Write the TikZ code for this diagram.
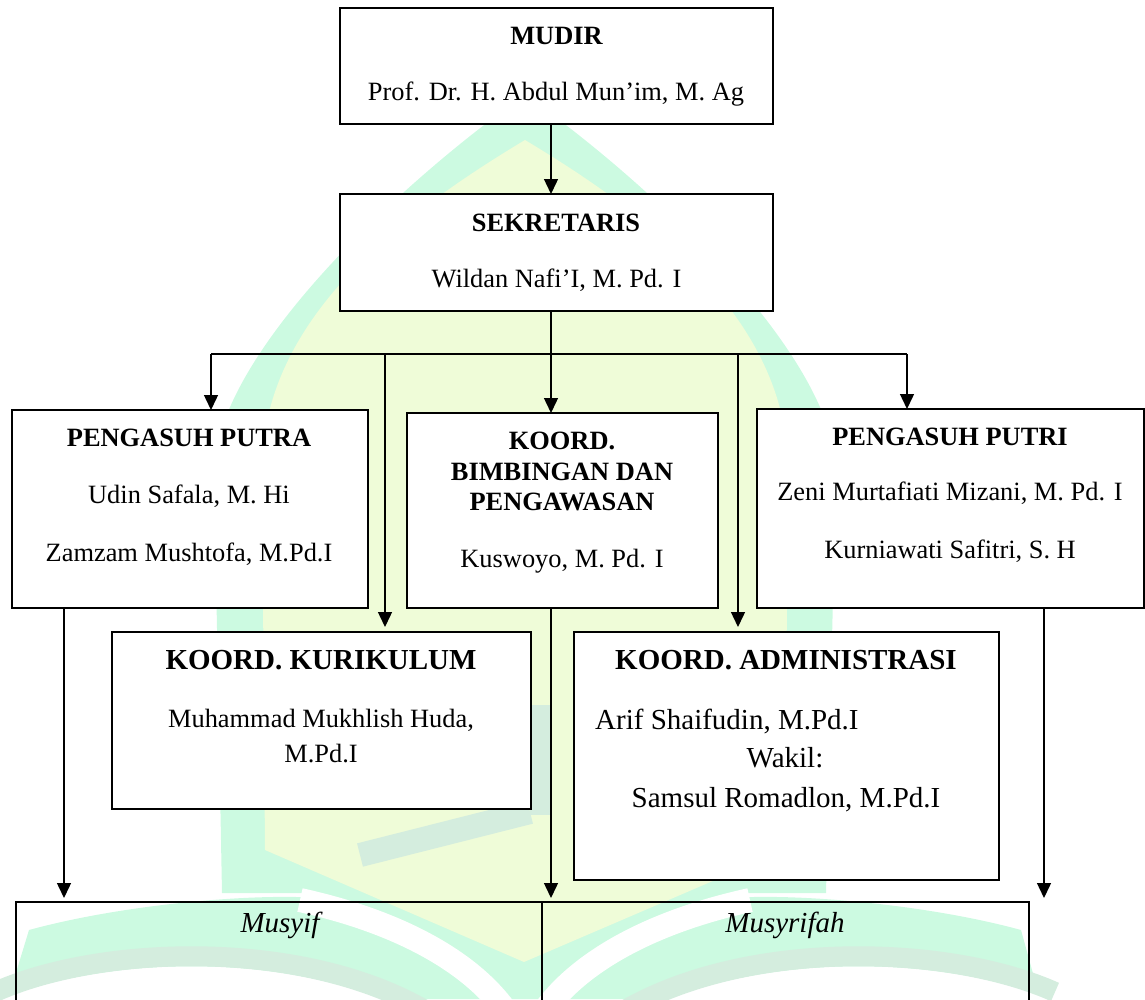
\documentclass[tikz,border=0pt]{standalone}
\usepackage{fontspec}
\setmainfont{Liberation Serif}
\usetikzlibrary{arrows.meta}
\definecolor{wmmint}{HTML}{CCFAE1}
\definecolor{wmyellow}{HTML}{EFFCD8}
\definecolor{wmgray}{HTML}{D4EDDE}
\newcommand\fsN{\fontsize{26.4}{30}\selectfont}
\newcommand\fsL{\fontsize{29}{33}\selectfont}
\tikzset{
  box/.style={draw, line width=1.6pt, fill=white, inner sep=0pt, outer sep=0pt},
  cell/.style={draw, line width=1.6pt, inner sep=0pt, outer sep=0pt},
  txt/.style={anchor=base, inner sep=0pt, font=\fsN},
  txtL/.style={anchor=base, inner sep=0pt, font=\fsL},
  ln/.style={line width=1.4pt},
  arr/.style={line width=1.4pt, -{Triangle[length=15pt,width=14pt]}},
}
\begin{document}
\begin{tikzpicture}[x=1pt,y=-1pt]
\useasboundingbox (0,0) rectangle (1145,999);
% ---------- watermark ----------
\fill[wmmint] (222,893) -- (214,470) .. controls (218,350) and (410,175) .. (525,95) .. controls (640,175) and (832,350) .. (836,470) -- (826,893) -- cycle;
\fill[wmmint] (8,999) -- (29,930) .. controls (120,905) and (250,893) .. (320,898) -- (320,893) -- (730,893) -- (730,898) .. controls (800,893) and (930,905) .. (1021,930) -- (1040,999) -- cycle;
\fill[wmyellow] (265,850) -- (262,470) .. controls (262,320) and (400,215) .. (525,140) .. controls (650,215) and (788,320) .. (788,470) -- (785,850) -- (524,962) -- cycle;
\draw[wmgray, line width=24pt] (360,855) -- (530,812);
\draw[wmgray, line width=20pt] (540,705) -- (540,815);
\fill[white] (-5,1002) .. controls (100,955) and (300,948) .. (425,1020) -- cycle;
\fill[white] (1055,1002) .. controls (950,955) and (750,948) .. (625,1020) -- cycle;
\draw[wmgray, line width=20pt] (-5,992) .. controls (100,945) and (300,938) .. (425,1010);
\draw[wmgray, line width=20pt] (1055,992) .. controls (950,945) and (750,938) .. (625,1010);
\draw[white, line width=24pt] (300,900) .. controls (400,922) and (470,962) .. (505,1010);
\draw[white, line width=24pt] (750,900) .. controls (650,922) and (580,962) .. (545,1010);
% ---------- boxes ----------
\node[box, minimum width=433pt, minimum height=116pt] (mudir) at (556.5,66) {};
\node[box, minimum width=433pt, minimum height=117pt] (sek) at (556.5,252.5) {};
\node[box, minimum width=356pt, minimum height=198pt] (putra) at (190,509) {};
\node[box, minimum width=311pt, minimum height=195pt] (bimb) at (562.5,510.5) {};
\node[box, minimum width=387pt, minimum height=199pt] (putri) at (950.5,508.5) {};
\node[box, minimum width=419pt, minimum height=177pt] (kur) at (321.5,720.5) {};
\node[box, minimum width=425pt, minimum height=248pt] (adm) at (786.5,756) {};
\node[cell, minimum width=526pt, minimum height=118pt] (botL) at (279,961) {};
\node[cell, minimum width=487pt, minimum height=118pt] (botR) at (785.5,961) {};
% ---------- texts ----------
\node[txt] (t1) at (556.5,44) {\bfseries MUDIR};
\node[txt] (t2) at (556,100) {Prof. Dr. H. Abdul Mun’im, M. Ag};
\node[txt] (t3) at (556,231) {\bfseries SEKRETARIS};
\node[txt] (t4) at (556.5,287) {Wildan Nafi’I, M. Pd. I};
\node[txt] (t5) at (189,446) {\bfseries PENGASUH PUTRA};
\node[txt] (t6) at (189,503) {Udin Safala, M. Hi};
\node[txt] (t7) at (189,561) {Zamzam Mushtofa, M.Pd.I};
\node[txt] (t8) at (562,449) {\bfseries KOORD.};
\node[txt] (t9) at (562,480) {\bfseries BIMBINGAN DAN};
\node[txt] (t10) at (562,510) {\bfseries PENGAWASAN};
\node[txt] (t11) at (562,567) {Kuswoyo, M. Pd. I};
\node[txt] (t12) at (950,445) {\bfseries PENGASUH PUTRI};
\node[txt] (t13) at (950,500) {Zeni Murtafiati Mizani, M. Pd. I};
\node[txt] (t14) at (950,558) {Kurniawati Safitri, S. H};
\node[txtL] (t15) at (321,669) {\bfseries KOORD. KURIKULUM};
\node[txt] (t16) at (321,727) {Muhammad Mukhlish Huda,};
\node[txt] (t17) at (321,762) {M.Pd.I};
\node[txtL] (t18) at (786,669) {\bfseries KOORD. ADMINISTRASI};
\node[txtL, anchor=base west] (t19) at (595,729) {Arif Shaifudin, M.Pd.I};
\node[txtL] (t20) at (785,767) {Wakil:};
\node[txtL] (t21) at (786,807) {Samsul Romadlon, M.Pd.I};
\node[txtL] (t22) at (280,932) {\itshape Musyif};
\node[txtL] (t23) at (785,932) {\itshape Musyrifah};
% ---------- connectors ----------
\coordinate (bus) at (551,354);
\coordinate (bL) at (211,354);
\coordinate (bR) at (907,354);
\coordinate (vK) at (385,354);
\coordinate (vA) at (738,354);
\coordinate (pL) at (64,0);
\coordinate (pR) at (1044,0);
\draw[arr] (mudir.south -| bus) -- (sek.north -| bus);
\draw[ln] (sek.south -| bus) -- (bus);
\draw[ln] (bL) -- (bR);
\draw[arr] (bL) -- (bL |- putra.north);
\draw[arr] (bus) -- (bus |- bimb.north);
\draw[arr] (bR) -- (bR |- putri.north);
\draw[arr, shorten >=5pt] (vK) -- (vK |- kur.north);
\draw[arr, shorten >=5pt] (vA) -- (vA |- adm.north);
\draw[arr, shorten >=4pt] (putra.south -| pL) -- (botL.north -| pL);
\draw[arr, shorten >=4pt] (bimb.south -| bus) -- (botR.north -| bus);
\draw[arr, shorten >=4pt] (putri.south -| pR) -- (botR.north -| pR);
\end{tikzpicture}
\end{document}
